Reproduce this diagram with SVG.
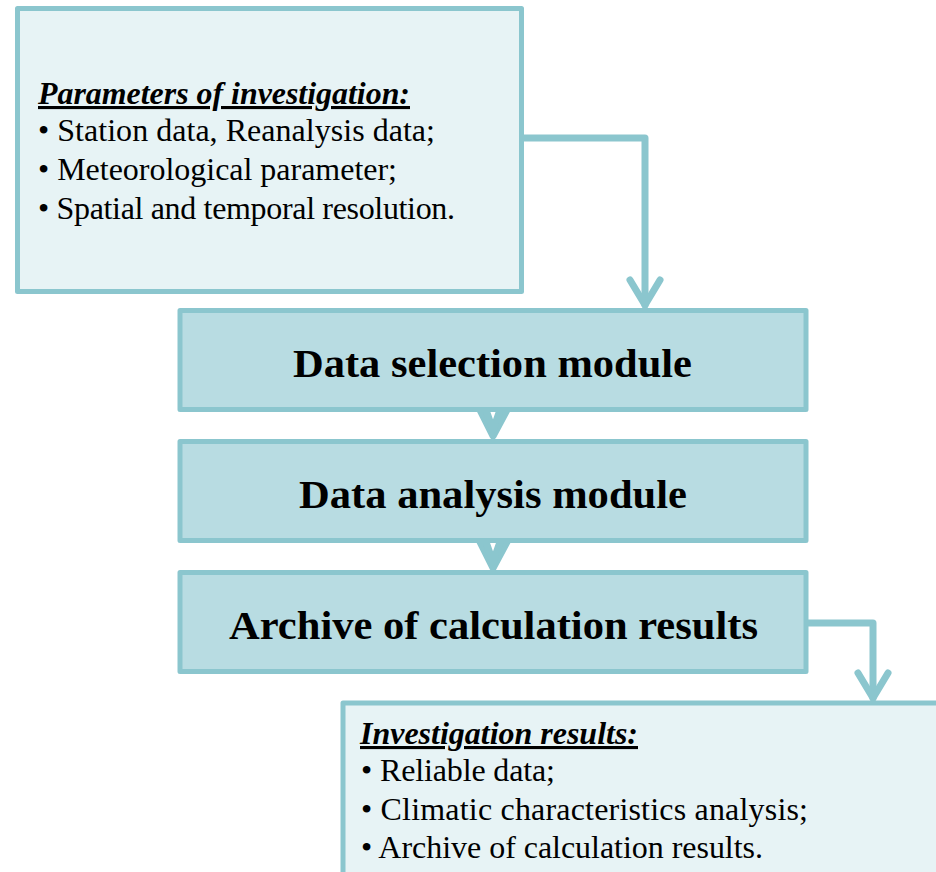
<svg xmlns="http://www.w3.org/2000/svg" width="936" height="872" viewBox="0 0 936 872">
  <defs>
    <style>
      .panel { fill: #E7F3F5; stroke: #8BC6CE; stroke-width: 5; stroke-linejoin: round; }
      .module { fill: #B8DCE2; stroke: #8BC6CE; stroke-width: 5; stroke-linejoin: round; }
      .link { fill: none; stroke: #8BC6CE; stroke-width: 7; stroke-linecap: round; stroke-linejoin: round; }
      .head { font-family: "Liberation Serif", "Times New Roman", serif; font-size: 31px; font-weight: bold; font-style: italic; text-decoration: underline; fill: #000; }
      .item { font-family: "Liberation Serif", "Times New Roman", serif; font-size: 32px; fill: #000; }
      .title { font-family: "Liberation Serif", "Times New Roman", serif; font-size: 41px; font-weight: bold; fill: #000; }
    </style>
  </defs>

  <g id="connectors">
    <!-- parameters panel to data selection -->
    <polyline class="link" points="522,138 645,138 645,305"/>
    <polyline class="link" points="630,280 645,305 660,280"/>
    <!-- selection to analysis -->
    <polyline class="link" points="479,408 493,436 508,408"/>
    <polyline class="link" points="486,410 493,430 500,410"/>
    <!-- analysis to archive -->
    <polyline class="link" points="479,540 493,568 508,540"/>
    <polyline class="link" points="486,542 493,562 500,542"/>
    <!-- archive to results panel -->
    <polyline class="link" points="807,623 873,623 873,698"/>
    <polyline class="link" points="858,673 873,698 888,673"/>
  </g>

  <g id="parameters">
    <rect class="panel" x="17.5" y="8.5" width="504" height="283"/>
    <text class="head" x="38" y="104" textLength="372" lengthAdjust="spacingAndGlyphs">Parameters of investigation:</text>
    <text class="item" x="38" y="141" textLength="397" lengthAdjust="spacing">• Station data, Reanalysis data;</text>
    <text class="item" x="38" y="180" textLength="359" lengthAdjust="spacing">• Meteorological parameter;</text>
    <text class="item" x="38" y="219" textLength="417" lengthAdjust="spacing">• Spatial and temporal resolution.</text>
  </g>

  <g id="data-selection">
    <rect class="module" x="180" y="310.5" width="626" height="99"/>
    <text class="title" x="293" y="377" textLength="399" lengthAdjust="spacingAndGlyphs">Data selection module</text>
  </g>

  <g id="data-analysis">
    <rect class="module" x="180" y="441.5" width="626" height="99"/>
    <text class="title" x="299" y="508" textLength="388" lengthAdjust="spacingAndGlyphs">Data analysis module</text>
  </g>

  <g id="archive">
    <rect class="module" x="180" y="572.5" width="626" height="99"/>
    <text class="title" x="229" y="639" textLength="529" lengthAdjust="spacingAndGlyphs">Archive of calculation results</text>
  </g>

  <g id="results">
    <rect class="panel" x="343" y="703" width="620" height="200"/>
    <text class="head" x="360" y="744" textLength="278" lengthAdjust="spacingAndGlyphs">Investigation results:</text>
    <text class="item" x="361" y="781" textLength="194" lengthAdjust="spacing">• Reliable data;</text>
    <text class="item" x="361" y="820" textLength="447" lengthAdjust="spacing">• Climatic characteristics analysis;</text>
    <text class="item" x="361" y="858" textLength="402" lengthAdjust="spacing">• Archive of calculation results.</text>
  </g>
</svg>
